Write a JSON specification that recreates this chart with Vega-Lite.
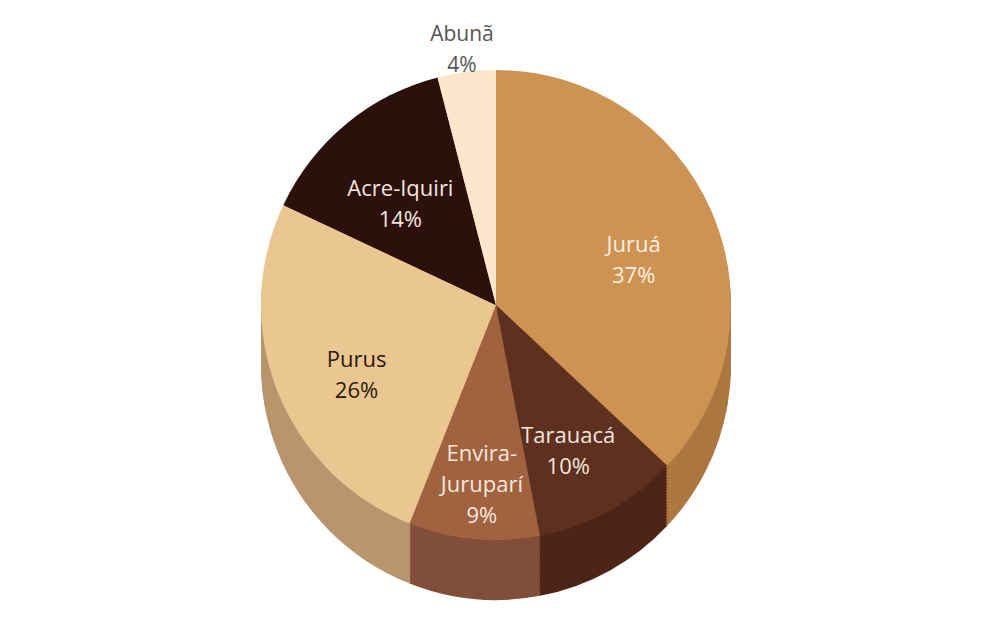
{
  "$schema": "https://vega.github.io/schema/vega-lite/v6.json",
  "width": 992,
  "height": 610,
  "padding": {"top": 0, "left": 0, "right": 0, "bottom": 29},
  "autosize": "none",
  "background": "#ffffff",
  "config": {"view": {"stroke": null}, "font": "Open Sans"},
  "data": {
    "values": [
      {"name": "Juruá", "pct": 37, "ord": 1, "label": "Juruá\n37%"},
      {"name": "Tarauacá", "pct": 10, "ord": 2, "label": "Tarauacá\n10%"},
      {"name": "Envira-Juruparí", "pct": 9, "ord": 3, "label": "Envira-\nJuruparí\n9%"},
      {"name": "Purus", "pct": 26, "ord": 4, "label": "Purus\n26%"},
      {"name": "Acre-Iquiri", "pct": 14, "ord": 5, "label": "Acre-Iquiri\n14%"},
      {"name": "Abunã", "pct": 4, "ord": 6, "label": "Abunã\n4%"}
    ]
  },
  "encoding": {
    "theta": {"field": "pct", "type": "quantitative", "stack": true},
    "order": {"field": "ord", "type": "quantitative"}
  },
  "layer": [
    {"mark": {"type": "arc", "outerRadius": 235, "yOffset": 60}, "encoding": {"color": {"field": "name", "type": "nominal", "legend": null, "scale": {"domain": ["Juruá", "Tarauacá", "Envira-Juruparí", "Purus", "Acre-Iquiri", "Abunã"], "range": ["#ac783f", "#4c2518", "#814f39", "#b8956d", "#231010", "#e6cbad"]}}}},
    {"mark": {"type": "arc", "outerRadius": 235, "yOffset": 57}, "encoding": {"color": {"field": "name", "type": "nominal", "legend": null, "scale": {"domain": ["Juruá", "Tarauacá", "Envira-Juruparí", "Purus", "Acre-Iquiri", "Abunã"], "range": ["#ac783f", "#4c2518", "#814f39", "#b8956d", "#231010", "#e6cbad"]}}}},
    {"mark": {"type": "arc", "outerRadius": 235, "yOffset": 54}, "encoding": {"color": {"field": "name", "type": "nominal", "legend": null, "scale": {"domain": ["Juruá", "Tarauacá", "Envira-Juruparí", "Purus", "Acre-Iquiri", "Abunã"], "range": ["#ac783f", "#4c2518", "#814f39", "#b8956d", "#231010", "#e6cbad"]}}}},
    {"mark": {"type": "arc", "outerRadius": 235, "yOffset": 51}, "encoding": {"color": {"field": "name", "type": "nominal", "legend": null, "scale": {"domain": ["Juruá", "Tarauacá", "Envira-Juruparí", "Purus", "Acre-Iquiri", "Abunã"], "range": ["#ac783f", "#4c2518", "#814f39", "#b8956d", "#231010", "#e6cbad"]}}}},
    {"mark": {"type": "arc", "outerRadius": 235, "yOffset": 48}, "encoding": {"color": {"field": "name", "type": "nominal", "legend": null, "scale": {"domain": ["Juruá", "Tarauacá", "Envira-Juruparí", "Purus", "Acre-Iquiri", "Abunã"], "range": ["#ac783f", "#4c2518", "#814f39", "#b8956d", "#231010", "#e6cbad"]}}}},
    {"mark": {"type": "arc", "outerRadius": 235, "yOffset": 45}, "encoding": {"color": {"field": "name", "type": "nominal", "legend": null, "scale": {"domain": ["Juruá", "Tarauacá", "Envira-Juruparí", "Purus", "Acre-Iquiri", "Abunã"], "range": ["#ac783f", "#4c2518", "#814f39", "#b8956d", "#231010", "#e6cbad"]}}}},
    {"mark": {"type": "arc", "outerRadius": 235, "yOffset": 42}, "encoding": {"color": {"field": "name", "type": "nominal", "legend": null, "scale": {"domain": ["Juruá", "Tarauacá", "Envira-Juruparí", "Purus", "Acre-Iquiri", "Abunã"], "range": ["#ac783f", "#4c2518", "#814f39", "#b8956d", "#231010", "#e6cbad"]}}}},
    {"mark": {"type": "arc", "outerRadius": 235, "yOffset": 39}, "encoding": {"color": {"field": "name", "type": "nominal", "legend": null, "scale": {"domain": ["Juruá", "Tarauacá", "Envira-Juruparí", "Purus", "Acre-Iquiri", "Abunã"], "range": ["#ac783f", "#4c2518", "#814f39", "#b8956d", "#231010", "#e6cbad"]}}}},
    {"mark": {"type": "arc", "outerRadius": 235, "yOffset": 36}, "encoding": {"color": {"field": "name", "type": "nominal", "legend": null, "scale": {"domain": ["Juruá", "Tarauacá", "Envira-Juruparí", "Purus", "Acre-Iquiri", "Abunã"], "range": ["#ac783f", "#4c2518", "#814f39", "#b8956d", "#231010", "#e6cbad"]}}}},
    {"mark": {"type": "arc", "outerRadius": 235, "yOffset": 33}, "encoding": {"color": {"field": "name", "type": "nominal", "legend": null, "scale": {"domain": ["Juruá", "Tarauacá", "Envira-Juruparí", "Purus", "Acre-Iquiri", "Abunã"], "range": ["#ac783f", "#4c2518", "#814f39", "#b8956d", "#231010", "#e6cbad"]}}}},
    {"mark": {"type": "arc", "outerRadius": 235, "yOffset": 30}, "encoding": {"color": {"field": "name", "type": "nominal", "legend": null, "scale": {"domain": ["Juruá", "Tarauacá", "Envira-Juruparí", "Purus", "Acre-Iquiri", "Abunã"], "range": ["#ac783f", "#4c2518", "#814f39", "#b8956d", "#231010", "#e6cbad"]}}}},
    {"mark": {"type": "arc", "outerRadius": 235, "yOffset": 27}, "encoding": {"color": {"field": "name", "type": "nominal", "legend": null, "scale": {"domain": ["Juruá", "Tarauacá", "Envira-Juruparí", "Purus", "Acre-Iquiri", "Abunã"], "range": ["#ac783f", "#4c2518", "#814f39", "#b8956d", "#231010", "#e6cbad"]}}}},
    {"mark": {"type": "arc", "outerRadius": 235, "yOffset": 24}, "encoding": {"color": {"field": "name", "type": "nominal", "legend": null, "scale": {"domain": ["Juruá", "Tarauacá", "Envira-Juruparí", "Purus", "Acre-Iquiri", "Abunã"], "range": ["#ac783f", "#4c2518", "#814f39", "#b8956d", "#231010", "#e6cbad"]}}}},
    {"mark": {"type": "arc", "outerRadius": 235, "yOffset": 21}, "encoding": {"color": {"field": "name", "type": "nominal", "legend": null, "scale": {"domain": ["Juruá", "Tarauacá", "Envira-Juruparí", "Purus", "Acre-Iquiri", "Abunã"], "range": ["#ac783f", "#4c2518", "#814f39", "#b8956d", "#231010", "#e6cbad"]}}}},
    {"mark": {"type": "arc", "outerRadius": 235, "yOffset": 18}, "encoding": {"color": {"field": "name", "type": "nominal", "legend": null, "scale": {"domain": ["Juruá", "Tarauacá", "Envira-Juruparí", "Purus", "Acre-Iquiri", "Abunã"], "range": ["#ac783f", "#4c2518", "#814f39", "#b8956d", "#231010", "#e6cbad"]}}}},
    {"mark": {"type": "arc", "outerRadius": 235, "yOffset": 15}, "encoding": {"color": {"field": "name", "type": "nominal", "legend": null, "scale": {"domain": ["Juruá", "Tarauacá", "Envira-Juruparí", "Purus", "Acre-Iquiri", "Abunã"], "range": ["#ac783f", "#4c2518", "#814f39", "#b8956d", "#231010", "#e6cbad"]}}}},
    {"mark": {"type": "arc", "outerRadius": 235, "yOffset": 12}, "encoding": {"color": {"field": "name", "type": "nominal", "legend": null, "scale": {"domain": ["Juruá", "Tarauacá", "Envira-Juruparí", "Purus", "Acre-Iquiri", "Abunã"], "range": ["#ac783f", "#4c2518", "#814f39", "#b8956d", "#231010", "#e6cbad"]}}}},
    {"mark": {"type": "arc", "outerRadius": 235, "yOffset": 9}, "encoding": {"color": {"field": "name", "type": "nominal", "legend": null, "scale": {"domain": ["Juruá", "Tarauacá", "Envira-Juruparí", "Purus", "Acre-Iquiri", "Abunã"], "range": ["#ac783f", "#4c2518", "#814f39", "#b8956d", "#231010", "#e6cbad"]}}}},
    {"mark": {"type": "arc", "outerRadius": 235, "yOffset": 6}, "encoding": {"color": {"field": "name", "type": "nominal", "legend": null, "scale": {"domain": ["Juruá", "Tarauacá", "Envira-Juruparí", "Purus", "Acre-Iquiri", "Abunã"], "range": ["#ac783f", "#4c2518", "#814f39", "#b8956d", "#231010", "#e6cbad"]}}}},
    {"mark": {"type": "arc", "outerRadius": 235, "yOffset": 3}, "encoding": {"color": {"field": "name", "type": "nominal", "legend": null, "scale": {"domain": ["Juruá", "Tarauacá", "Envira-Juruparí", "Purus", "Acre-Iquiri", "Abunã"], "range": ["#ac783f", "#4c2518", "#814f39", "#b8956d", "#231010", "#e6cbad"]}}}},
    {
      "mark": {"type": "arc", "outerRadius": 235},
      "encoding": {"color": {"field": "name", "type": "nominal", "legend": null,
        "scale": {"domain": ["Juruá", "Tarauacá", "Envira-Juruparí", "Purus", "Acre-Iquiri", "Abunã"],
                  "range": ["#cc9352", "#5e3020", "#a0623f", "#eac690", "#2c100c", "#fde6cb"]}}}
    },
    {
      "mark": {"type": "text", "radius": 150, "fontSize": 22, "lineBreak": "\n", "lineHeight": 31, "align": "center", "baseline": "middle"},
      "encoding": {
        "text": {"field": "label", "type": "nominal"},
        "color": {"field": "name", "type": "nominal", "legend": null,
          "scale": {"domain": ["Juruá", "Tarauacá", "Envira-Juruparí", "Purus", "Acre-Iquiri", "Abunã"],
                    "range": ["#fbeee0", "#f3e6dc", "#f6e8de", "#2a1a12", "#f3e6dc", "#555555"]}},
        "opacity": {"condition": {"test": "datum.name === 'Abunã'", "value": 0}, "value": 1}
      }
    },
    {
      "mark": {"type": "text", "radius": 272, "fontSize": 21, "lineBreak": "\n", "lineHeight": 31, "align": "center", "baseline": "middle", "color": "#555555"},
      "encoding": {
        "text": {"field": "label", "type": "nominal"},
        "opacity": {"condition": {"test": "datum.name === 'Abunã'", "value": 1}, "value": 0}
      }
    }
  ],
  "resolve": {"scale": {"color": "independent"}}
}
